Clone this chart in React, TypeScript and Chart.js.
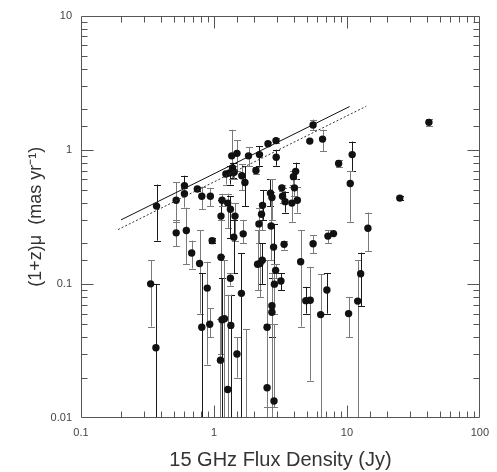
import React, { useEffect, useRef } from 'react';
import { Chart, registerables } from 'chart.js';

Chart.register(...registerables);

// 15 GHz flux density (Jy)
const flux = [
  0.37, 0.52, 0.52, 0.60, 0.60, 0.62, 0.75, 0.81, 0.94, 0.97,
  0.68, 0.78, 0.81, 0.89, 0.93, 1.13, 1.15, 1.27, 1.33, 1.44,
  1.23, 1.31, 1.36, 1.49, 1.38, 1.42, 1.62, 1.71, 1.82, 2.07,
  2.20, 2.55, 2.93, 2.94, 3.24, 3.28, 3.43, 3.86, 3.96, 4.12,
  4.03, 4.24, 2.66, 2.73, 2.28, 2.32, 2.18, 2.69, 1.41, 1.66,
  5.57, 5.26, 6.56, 8.67, 10.96, 10.6, 41.4, 25.0, 14.4, 7.20,
  7.93, 5.57, 0.334, 0.366, 1.13, 1.12, 1.15, 1.20, 1.33, 1.34,
  1.27, 1.49, 1.61, 2.13, 2.22, 2.31, 2.51, 2.51, 2.73, 2.73,
  2.83, 2.81, 2.91, 2.85, 3.19, 3.37, 4.49, 4.91, 5.30, 6.35,
  7.07, 10.3, 12.06, 12.7, 1.75,
];
// (1+z) mu (mas/yr)
const mu = [
  0.38, 0.42, 0.24, 0.54, 0.47, 0.25, 0.51, 0.45, 0.45, 0.21,
  0.17, 0.142, 0.0475, 0.093, 0.050, 0.32, 0.42, 0.40, 0.36, 0.32,
  0.66, 0.67, 0.90, 0.94, 0.73, 0.68, 0.64, 0.57, 0.90, 0.70,
  0.92, 1.11, 1.17, 0.88, 0.52, 0.45, 0.41, 0.40, 0.63, 0.69,
  0.52, 0.42, 0.475, 0.44, 0.33, 0.385, 0.28, 0.27, 0.223, 0.236,
  1.53, 1.16, 1.20, 0.79, 0.92, 0.56, 1.60, 0.436, 0.26, 0.227,
  0.237, 0.199, 0.10, 0.0334, 0.158, 0.027, 0.054, 0.055, 0.11, 0.049,
  0.0163, 0.030, 0.085, 0.14, 0.142, 0.15, 0.0475, 0.0168, 0.0687, 0.0614,
  0.0134, 0.188, 0.126, 0.0995, 0.105, 0.197, 0.146, 0.075, 0.0755, 0.059,
  0.090, 0.060, 0.0744, 0.119, 0.006,
];
const muLo = [
  0.21, 0.29, 0.19, 0.47, 0.37, 0.14, 0.49, 0.36, 0.38, 0.20,
  0.13, 0.06, 0.005, 0.025, 0.040, 0.16, 0.38, 0.26, 0.22, 0.21,
  0.55, 0.55, 0.60, 0.70, 0.62, 0.60, 0.50, 0.38, 0.75, 0.66,
  0.76, 1.08, 1.12, 0.76, 0.49, 0.40, 0.34, 0.29, 0.55, 0.60,
  0.45, 0.34, 0.38, 0.30, 0.25, 0.30, 0.20, 0.15, 0.12, 0.20,
  1.40, null, 0.98, 0.74, 0.695, 0.29, 1.50, 0.42, 0.176, 0.20,
  null, 0.17, 0.048, 0.005, 0.03, 0.005, 0.005, 0.005, 0.097, 0.005,
  0.005, 0.020, 0.005, 0.09, 0.08, 0.10, 0.005, 0.012, 0.04, 0.005,
  0.012, 0.10, 0.11, 0.06, 0.09, 0.18, 0.048, 0.06, 0.019, 0.005,
  0.06, 0.04, 0.005, 0.068, 0.005,
];
const muHi = [
  0.55, 0.57, 0.30, 0.64, 0.52, 0.37, 0.53, 0.53, 0.52, 0.22,
  0.21, 0.25, 0.12, 0.146, 0.066, 0.42, 0.47, 0.47, 0.45, 0.40,
  0.70, 0.75, 1.41, 1.18, 0.80, 0.75, 0.78, 0.75, 1.05, 0.74,
  1.06, 1.14, 1.22, 1.00, 0.55, 0.52, 0.48, 0.53, 0.70, 0.80,
  0.60, 0.53, 0.60, 0.60, 0.40, 0.50, 0.37, 0.48, 0.30, 0.30,
  1.68, null, 1.41, 0.84, 1.15, 0.695, 1.70, 0.45, 0.34, 0.25,
  null, 0.23, 0.15, 0.10, 0.30, 0.055, 0.11, 0.15, 0.12, 0.083,
  0.083, 0.040, 0.17, 0.25, 0.20, 0.20, 0.15, 0.05, 0.11, 0.12,
  0.05, 0.28, 0.14, 0.14, 0.12, 0.21, 0.25, 0.095, 0.134, 0.118,
  0.12, 0.08, 0.15, 0.171, 0.046,
];

// Fit lines
const solidLineX = [0.2, 10.5];
const solidLineY = [0.3, 2.1];
const dottedLineX = [0.19, 14];
const dottedLineY = [0.254, 2.11];

const xLabelValues = [0.1, 1, 10, 100];
const yLabelValues = [0.01, 0.1, 1, 10];

const isDecade = (v: number) => Math.abs(Math.log10(v) - Math.round(Math.log10(v))) < 1e-6;
const hasLabel = (list: number[], v: number) => list.some((l) => Math.abs(l - v) / l < 1e-6);

const frameColor = '#555';
const fontFamily = '"Liberation Sans", Arial, sans-serif';

const errorBarsAndFrame = {
  id: 'errorBarsAndFrame',
  beforeDatasetsDraw(chart: any) {
    const { ctx, chartArea: a, scales } = chart;
    const x = scales.x;
    const y = scales.y;
    ctx.save();
    ctx.beginPath();
    ctx.rect(a.left, a.top, a.right - a.left, a.bottom - a.top);
    ctx.clip();
    ctx.lineWidth = 1;
    flux.forEach((f, i) => {
      const lo = muLo[i];
      const hi = muHi[i];
      if (lo == null || hi == null) return;
      const px = Math.round(x.getPixelForValue(f)) + 0.5;
      const yl = y.getPixelForValue(lo);
      const yh = y.getPixelForValue(hi);
      ctx.strokeStyle = i % 3 === 0 ? '#1a1a1a' : '#7a7a7a';
      ctx.beginPath();
      ctx.moveTo(px, yl);
      ctx.lineTo(px, yh);
      ctx.moveTo(px - 3.5, Math.round(yh) + 0.5);
      ctx.lineTo(px + 3.5, Math.round(yh) + 0.5);
      if (lo > 0.0099) {
        ctx.moveTo(px - 3.5, Math.round(yl) + 0.5);
        ctx.lineTo(px + 3.5, Math.round(yl) + 0.5);
      }
      ctx.stroke();
    });
    ctx.restore();
  },
  afterDraw(chart: any) {
    const { ctx, chartArea: a, scales } = chart;
    const x = scales.x;
    const y = scales.y;
    ctx.save();
    ctx.strokeStyle = frameColor;
    ctx.lineWidth = 1;
    const L = Math.round(a.left) + 0.5;
    const R = Math.round(a.right) - 0.5;
    const T = Math.round(a.top) + 0.5;
    const B = Math.round(a.bottom) - 0.5;
    ctx.beginPath();
    ctx.rect(L, T, R - L, B - T);
    ctx.stroke();
    ctx.beginPath();
    x.ticks.forEach((t: any) => {
      const v = t.value;
      if (v <= x.min * 1.0001 || v >= x.max * 0.9999) return;
      const px = Math.round(x.getPixelForValue(v)) + 0.5;
      const len = isDecade(v) ? 12 : 6;
      ctx.moveTo(px, B);
      ctx.lineTo(px, B - len);
      ctx.moveTo(px, T);
      ctx.lineTo(px, T + len);
    });
    y.ticks.forEach((t: any) => {
      const v = t.value;
      if (v <= y.min * 1.0001 || v >= y.max * 0.9999) return;
      const py = Math.round(y.getPixelForValue(v)) + 0.5;
      const len = isDecade(v) ? 12 : 6;
      ctx.moveTo(L, py);
      ctx.lineTo(L + len, py);
      ctx.moveTo(R, py);
      ctx.lineTo(R - len, py);
    });
    ctx.stroke();
    ctx.restore();
  },
};

export default function App() {
  const canvasRef = useRef<HTMLCanvasElement | null>(null);

  useEffect(() => {
    if (!canvasRef.current) return;
    const points = flux.map((f, i) => ({ x: f, y: mu[i] }));
    const chart = new Chart(canvasRef.current, {
      type: 'scatter',
      data: {
        datasets: [
          {
            label: 'fit',
            data: solidLineX.map((v, i) => ({ x: v, y: solidLineY[i] })),
            showLine: true,
            borderColor: '#111',
            borderWidth: 1,
            pointRadius: 0,
            fill: false,
          },
          {
            label: 'fit2',
            data: dottedLineX.map((v, i) => ({ x: v, y: dottedLineY[i] })),
            showLine: true,
            borderColor: '#333',
            borderWidth: 1,
            borderDash: [2, 2],
            pointRadius: 0,
            fill: false,
          },
          {
            label: 'sources',
            data: points,
            pointRadius: 3.7,
            pointBackgroundColor: '#111',
            pointBorderWidth: 0,
            borderColor: '#111',
          },
        ],
      },
      options: {
        responsive: false,
        animation: false,
        events: [],
        layout: { padding: { left: 0, top: 13, right: 11, bottom: 0 } },
        plugins: { legend: { display: false }, tooltip: { enabled: false } },
        scales: {
          x: {
            type: 'logarithmic',
            min: 0.1,
            max: 100,
            grid: { display: false, drawTicks: false },
            border: { display: false },
            afterFit: (s: any) => { s.height = 54; },
            ticks: {
              autoSkip: false,
              maxRotation: 0,
              padding: 8,
              color: '#444',
              font: { family: fontFamily, size: 11 },
              callback: (v: any) => (hasLabel(xLabelValues, Number(v)) ? String(Number(v)) : ''),
            },
            title: {
              display: true,
              text: '15 GHz Flux Density (Jy)',
              color: '#333',
              font: { family: fontFamily, size: 20 },
              padding: { top: 0, bottom: 0 },
            },
          },
          y: {
            type: 'logarithmic',
            min: 0.01,
            max: 10,
            grid: { display: false, drawTicks: false },
            border: { display: false },
            afterFit: (s: any) => { s.width = 81; },
            ticks: {
              autoSkip: false,
              padding: 9,
              color: '#444',
              font: { family: fontFamily, size: 11 },
              callback: (v: any) => (hasLabel(yLabelValues, Number(v)) ? String(Number(v)) : ''),
            },
            title: {
              display: true,
              text: '(1+z)μ  (mas yr⁻¹)',
              color: '#333',
              font: { family: fontFamily, size: 18 },
              padding: { top: 25, bottom: 0 },
            },
          },
        },
      },
      plugins: [errorBarsAndFrame],
    });
    return () => chart.destroy();
  }, []);

  return (
    <div style={{ position: 'absolute', left: 0, top: 0, width: 497, height: 472, background: '#fff' }}>
      <canvas ref={canvasRef} width={497} height={472} />
    </div>
  );
}
